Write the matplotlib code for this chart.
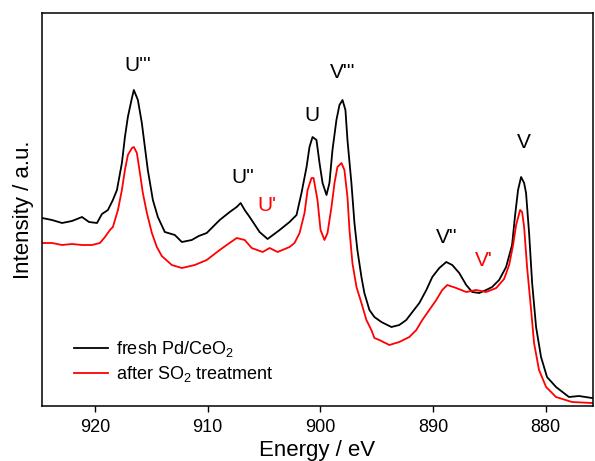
import matplotlib
matplotlib.use('Agg')
import matplotlib.pyplot as plt

plt.rcParams['font.family'] = ['Liberation Sans', 'DejaVu Sans']
plt.rcParams['mathtext.fontset'] = 'custom'
plt.rcParams['mathtext.rm'] = 'Liberation Sans'
plt.rcParams['mathtext.it'] = 'Liberation Sans:italic'

# binding energy (eV) and intensity (a.u.)
fresh_energy = [924.69, 923.81, 922.92, 922.04, 921.15, 920.53, 919.82, 919.38, 918.85, 918.41,
                918.05, 917.61, 917.34, 917.08, 916.72, 916.55, 916.19, 915.84, 915.57, 915.31,
                914.86, 914.42, 913.80, 912.91, 912.29, 911.41, 910.79, 910.08, 908.93, 908.04,
                907.42, 907.07, 906.71, 906.27, 905.39, 904.68, 903.61, 902.73, 902.11, 901.67,
                901.22, 900.96, 900.69, 900.34, 900.07, 899.80, 899.45, 899.19, 898.92, 898.57,
                898.30, 898.03, 897.77, 897.59, 897.24, 896.97, 896.71, 896.35, 896.09, 895.64,
                895.20, 894.58, 893.69, 892.99, 892.37, 891.83, 891.21, 890.59, 890.06, 889.44,
                888.82, 888.29, 887.67, 887.05, 886.52, 885.90, 885.28, 884.75, 884.13, 883.51,
                882.98, 882.71, 882.45, 882.18, 881.91, 881.74, 881.47, 881.20, 880.85, 880.41,
                879.88, 879.08, 877.93, 877.04, 875.89]
fresh_int = [188, 186, 183, 185, 189, 184, 183, 192, 196, 206,
             216, 243, 269, 289, 308, 316, 306, 283, 259, 236,
             206, 189, 174, 171, 164, 166, 170, 173, 186, 194,
             199, 203, 196, 189, 174, 167, 176, 184, 191, 213,
             239, 259, 269, 266, 243, 223, 211, 223, 256, 286,
             301, 306, 296, 266, 223, 183, 156, 129, 113, 96,
             89, 84, 79, 81, 86, 94, 103, 116, 129, 138,
             144, 141, 133, 121, 114, 113, 116, 119, 126, 139,
             161, 191, 216, 229, 223, 213, 173, 123, 79, 49,
             29, 19, 9, 10, 8]

so2_energy = [924.69, 923.81, 922.92, 922.04, 921.15, 920.27, 919.56, 919.11, 918.67, 918.41,
              917.96, 917.61, 917.34, 917.08, 916.72, 916.55, 916.28, 916.01, 915.75, 915.39,
              914.95, 914.51, 914.07, 913.18, 912.29, 911.14, 910.08, 908.93, 908.31, 907.42,
              906.71, 906.09, 905.12, 904.50, 903.79, 902.73, 902.29, 901.84, 901.40, 901.13,
              900.78, 900.60, 900.25, 899.98, 899.63, 899.36, 899.01, 898.74, 898.48, 898.12,
              897.86, 897.59, 897.41, 897.15, 896.79, 896.35, 895.91, 895.47, 895.20, 894.76,
              893.87, 892.99, 892.10, 891.48, 890.95, 890.33, 889.71, 889.18, 888.73, 887.94,
              887.05, 886.17, 885.28, 884.39, 883.69, 883.24, 882.89, 882.62, 882.27, 882.09,
              881.91, 881.65, 881.29, 881.03, 880.59, 879.96, 879.08, 877.66, 875.89]
so2_int = [163, 163, 161, 162, 161, 161, 163, 169, 176, 179,
           196, 216, 236, 251, 258, 259, 253, 233, 213, 193,
           173, 159, 150, 141, 138, 141, 146, 156, 161, 168,
           166, 158, 154, 158, 154, 159, 163, 173, 193, 216,
           228, 228, 206, 176, 166, 173, 199, 223, 239, 243,
           236, 209, 176, 143, 119, 103, 86, 76, 68, 66,
           61, 64, 69, 76, 86, 96, 106, 116, 121, 118,
           114, 116, 114, 118, 127, 141, 161, 181, 196, 194,
           179, 139, 96, 63, 36, 19, 9, 4, 3]

# peak labels: text, energy, intensity, colour
peak_names = ["U'''", "U''", "U'", "U", "V'''", "V''", "V'", "V"]
peak_energy = [916.2, 906.9, 904.7, 900.7, 898.0, 888.8, 885.5, 881.9]
peak_height = [341, 229, 201, 291, 334, 169, 146, 264]
peak_colors = ['black', 'black', 'red', 'black', 'black', 'black', 'red', 'black']


def draw_spectra():
    fig = plt.figure(figsize=(5.95, 4.61), dpi=100)
    ax = fig.add_axes([0.0706, 0.1193, 0.926, 0.8525])
    ax.plot(fresh_energy, fresh_int, color='black', lw=1.3,
            solid_joinstyle='round', label='fresh Pd/CeO$_2$')
    ax.plot(so2_energy, so2_int, color='red', lw=1.3,
            solid_joinstyle='round', label='after SO$_2$ treatment')
    for name, e, h, c in zip(peak_names, peak_energy, peak_height, peak_colors):
        ax.text(e, h, name, color=c, fontsize=15, ha='center', va='center')

    ax.set_xlim(924.7, 875.8)
    ax.set_ylim(0, 393)
    ax.set_xticks([920, 910, 900, 890, 880])
    ax.set_yticks([])
    ax.tick_params(axis='x', direction='out', length=4.5, width=1.0,
                   labelsize=13, top=False, pad=5)
    for s in ax.spines.values():
        s.set_linewidth(1.1)
    ax.set_xlabel('Energy / eV', fontsize=16, labelpad=3)
    ax.set_ylabel('Intensity / a.u.', fontsize=16, labelpad=6)
    ax.legend(loc='lower left', frameon=False, fontsize=13,
              handlelength=1.9, handletextpad=0.45, labelspacing=0.25,
              bbox_to_anchor=(0.028, 0.015))
    fig.savefig('out.png', dpi=100)


draw_spectra()
